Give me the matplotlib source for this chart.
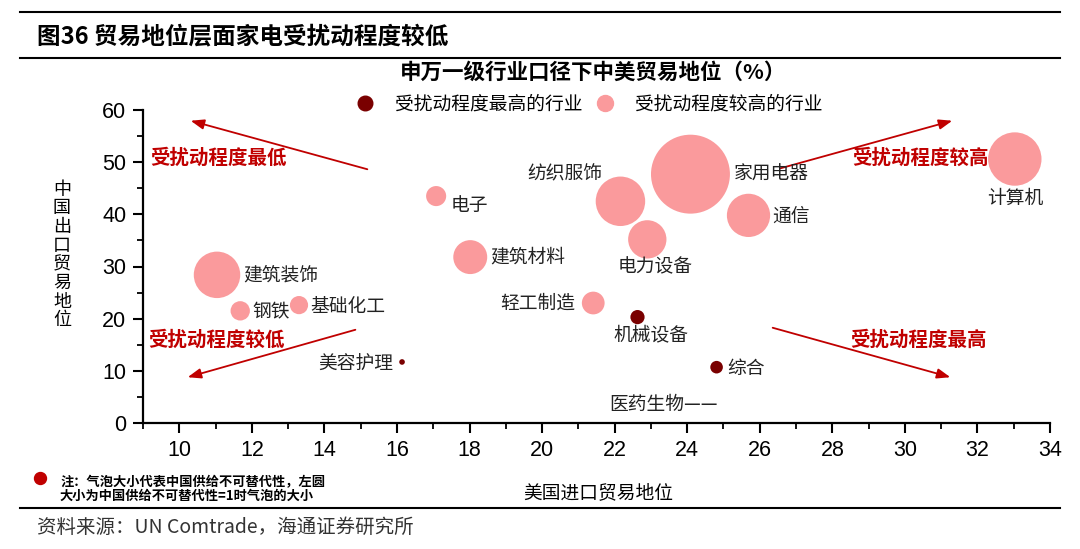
import numpy as np
import matplotlib
matplotlib.use("Agg")
import matplotlib.pyplot as plt
from matplotlib.lines import Line2D

plt.rcParams['font.family'] = ['Noto Sans CJK SC', 'DejaVu Sans']

# data: x = 美国进口贸易地位, y = 中国出口贸易地位, size = 中国供给不可替代性
industries = ['家用电器', '纺织服饰', '电力设备', '通信', '电子', '建筑材料', '轻工制造',
              '计算机', '建筑装饰', '钢铁', '基础化工',
              '机械设备', '美容护理', '综合', '医药生物']
us_import = [24.09, 22.16, 22.90, 25.69, 17.08, 18.02, 21.41,
             33.03, 11.04, 11.68, 13.30,
             22.63, 16.14, 24.81, 24.83]
cn_export = [47.7, 42.5, 35.2, 39.8, 43.5, 31.8, 23.0,
             50.6, 28.4, 21.5, 22.6,
             20.3, 11.7, 10.7, 3.6]
irreplace = [43.3, 17.0, 10.2, 13.0, 2.8, 8.0, 3.6,
             19.8, 15.0, 2.6, 2.3,
             1.4, 0.22, 1.1, 0.0]
most_hit = ['机械设备', '美容护理', '综合', '医药生物']

x_ticks = list(range(10, 36, 2))
y_ticks = list(range(0, 61, 10))

PINK = '#FA9A9C'
DARK = '#7A0000'
RED = '#C00000'

# label placement: (dx px, dy px, ha) relative to bubble centre
label_pos = {
    '家用电器': (43, 0, 'left'), '通信': (24, -1, 'left'), '纺织服饰': (-18, 27, 'right'),
    '电子': (14, -9, 'left'), '建筑材料': (20, 0, 'left'), '电力设备': (8, -27, 'center'),
    '轻工制造': (-18, 0, 'right'), '机械设备': (13, -18, 'center'), '计算机': (0, -39, 'center'),
    '建筑装饰': (26, 0, 'left'), '钢铁': (12, -1, 'left'), '基础化工': (11, -1, 'left'),
    '美容护理': (-9, -2, 'right'), '综合': (11, -1, 'left'), '医药生物': (0, 0, 'right'),
}

fig = plt.figure(figsize=(10.8, 5.49), dpi=100, facecolor='white')
ax = fig.add_axes([143/1080, 1-423/549, 907/1080, 313/549])

x = np.array(us_import)
y = np.array(cn_export)
s = np.array(irreplace) * 74.6
cols = [DARK if n in most_hit else PINK for n in industries]
ax.scatter(x, y, s=s, c=cols, edgecolors='none', zorder=3)

for i, name in enumerate(industries):
    dx, dy, ha = label_pos[name]
    txt = name + '——' if name == '医药生物' else name
    ax.annotate(txt, (x[i], y[i]), xytext=(dx, dy), textcoords='offset pixels',
                ha=ha, va='center', fontsize=13.5, color='#222222', zorder=4)

ax.set_xlim(9, 34)
ax.set_ylim(0, 60)
ax.set_xticks(x_ticks)
ax.set_yticks(y_ticks)
ax.set_xticks(np.arange(9, 34.1, 1), minor=True)
ax.set_yticks(np.arange(0, 60.1, 5), minor=True)
for lab in ax.get_xticklabels() + ax.get_yticklabels():
    lab.set_fontfamily(['Liberation Sans', 'DejaVu Sans'])
    lab.set_fontsize(15.5)
ax.tick_params(which='major', direction='out', length=7, width=1.5, colors='black', pad=5)
ax.tick_params(which='minor', direction='out', length=4, width=1.3)
for sp in ['top', 'right']:
    ax.spines[sp].set_visible(False)
for sp in ['left', 'bottom']:
    ax.spines[sp].set_linewidth(1.6)

# red arrows and quadrant captions (axes fraction)
arrows = [((0.2503, 0.8083), (0.0496, 0.9681)),
          ((0.7001, 0.8115), (0.8952, 0.9681)),
          ((0.2371, 0.3003), (0.0463, 0.1438)),
          ((0.6913, 0.3067), (0.8931, 0.1438))]
for tail, head in arrows:
    ax.annotate('', xy=head, xytext=tail, xycoords='axes fraction', textcoords='axes fraction',
                arrowprops=dict(arrowstyle='-|>,head_length=0.8,head_width=0.3', color=RED, lw=1.3))
captions = [('受扰动程度最低', 0.0077, 0.8466), ('受扰动程度较高', 0.7817, 0.8466),
            ('受扰动程度较低', 0.0055, 0.265), ('受扰动程度最高', 0.7795, 0.265)]
for t, fx, fy in captions:
    ax.text(fx, fy, t, transform=ax.transAxes, color=RED, fontsize=14, fontweight='bold',
            ha='left', va='center')

# legend
handles = [Line2D([], [], marker='o', ls='none', color=DARK, markersize=10.5),
           Line2D([], [], marker='o', ls='none', color=PINK, markersize=11.5)]
fig.legend(handles, ['受扰动程度最高的行业', '受扰动程度较高的行业'], ncol=2, frameon=False,
           loc='center', bbox_to_anchor=(588/1080, 1-104/549), fontsize=13.5,
           handletextpad=1.0, columnspacing=0.6, handlelength=1.2)

fig.text(593/1080, 1-72/549, '申万一级行业口径下中美贸易地位（%）', ha='center', va='center',
         fontsize=15.5, fontweight='bold')

ax.set_xlabel('美国进口贸易地位', fontsize=13.5, labelpad=0)
ax.xaxis.set_label_coords((598-143)/907, (423-482)/313)
fig.text(62/1080, 1-255/549, '\n'.join('中国出口贸易地位'), ha='center', va='center',
         fontsize=13, linespacing=1.05)

# header / footer
fig.add_artist(Line2D([20/1080, 1060/1080], [1-12/549, 1-12/549], color='black', lw=1.5))
fig.add_artist(Line2D([20/1080, 1060/1080], [1-58/549, 1-58/549], color='black', lw=1.5))
fig.add_artist(Line2D([20/1080, 1060/1080], [1-508/549, 1-508/549], color='black', lw=1.5))
fig.text(37/1080, 1-36/549, '图36 贸易地位层面家电受扰动程度较低', ha='left', va='center',
         fontsize=17, fontweight='bold')
fig.text(37/1080, 1-527/549, '资料来源：UN Comtrade，海通证券研究所', ha='left', va='center',
         fontsize=14, color='#333333')

fig.add_artist(Line2D([40/1080], [1-478/549], marker='o', color='#C00000', markersize=8.6, ls='none'))
fig.text(60/1080, 1-482/549, '注：气泡大小代表中国供给不可替代性，左圆', ha='left', va='center',
         fontsize=9.5, fontweight='bold')
fig.text(60/1080, 1-496/549, '大小为中国供给不可替代性=1时气泡的大小', ha='left', va='center',
         fontsize=9.5, fontweight='bold')

fig.savefig('out.png', dpi=100, facecolor='white')
